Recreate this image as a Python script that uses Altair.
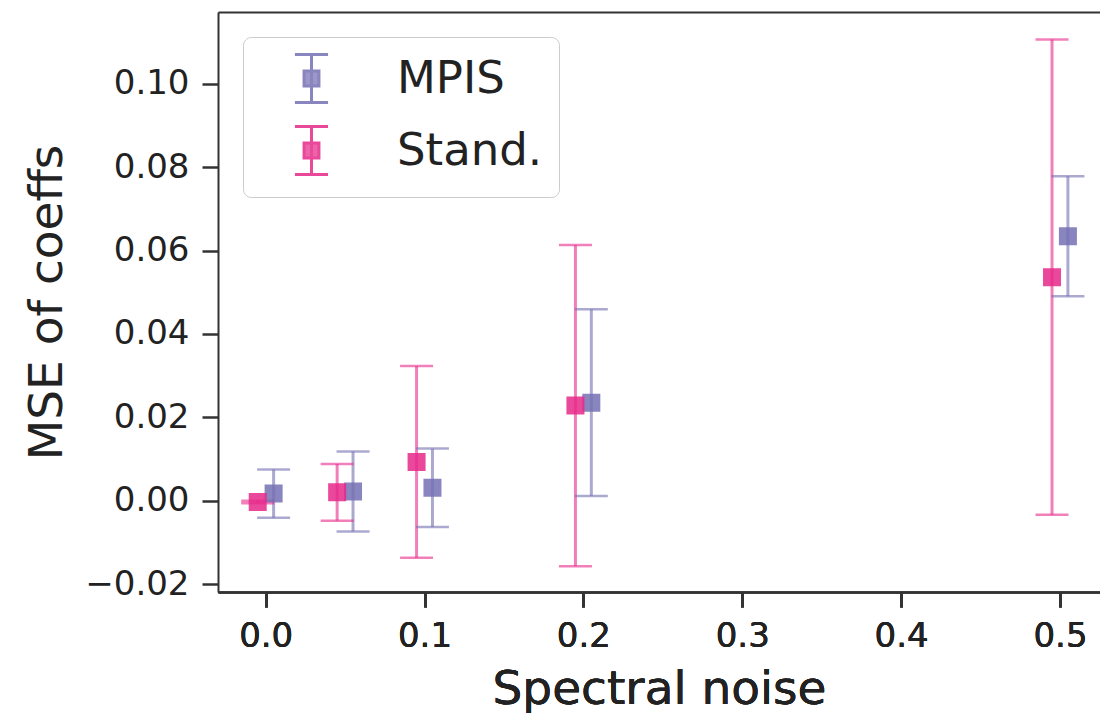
import altair as alt
import pandas as pd

# ---- data ----
noise = [0.0, 0.05, 0.1, 0.2, 0.5]
series = ["MPIS", "Stand."]
mpis_mean = [0.0017, 0.0022, 0.0031, 0.0235, 0.0634]
mpis_err = [0.0058, 0.0096, 0.0094, 0.0224, 0.0144]
stand_mean = [-0.0003, 0.0020, 0.0093, 0.0228, 0.0536]
stand_err = [0.0003, 0.0068, 0.0230, 0.0385, 0.0570]
colors = ["#7570b3", "#e7298a"]
dodge = 0.005  # horizontal dodge between the two series

x_ticks = [0.0, 0.1, 0.2, 0.3, 0.4, 0.5]
y_ticks = [-0.02, 0.0, 0.02, 0.04, 0.06, 0.08, 0.10]

rows = []
for name, shift, means, errs in [
    ("MPIS", dodge, mpis_mean, mpis_err),
    ("Stand.", -dodge, stand_mean, stand_err),
]:
    for n, m, e in zip(noise, means, errs):
        rows.append({"series": name, "noise": n + shift, "mean": m,
                     "lo": m - e, "hi": m + e})
df = pd.DataFrame(rows)

FONT = "DejaVu Sans"
TXT = "#222222"

xscale = alt.Scale(domain=[-0.030, 0.5252], nice=False, zero=False)
yscale = alt.Scale(domain=[-0.0219, 0.1172], nice=False, zero=False)

xaxis = alt.Axis(orient="bottom", values=x_ticks, format=".1f", title="Spectral noise",
                 titleBaseline="alphabetic", titleY=111, labelPadding=12, tickSize=15)
yaxis = alt.Axis(orient="left", values=y_ticks, format=".2f", title="MSE of coeffs",
                 titleBaseline="alphabetic", titleX=-157, titleAngle=270,
                 labelPadding=13, tickSize=16)

color_scale = alt.Scale(domain=series, range=colors)
sym_path = ("M-0.69,-1L0.69,-1M0,-1L0,1M-0.69,1L0.69,1"
            "M-0.31,-0.31L0.31,-0.31L0.31,0.31L-0.31,0.31Z")
legend = alt.Legend(title=None, orient="none", legendX=25, legendY=25,
                    symbolType=sym_path, symbolSize=2304, symbolStrokeWidth=3,
                    labelFont=FONT, labelFontSize=45, labelColor=TXT,
                    labelOffset=60, symbolOffset=27, padding=16, rowPadding=11,
                    strokeColor="#cccccc", fillColor="white", cornerRadius=8)

base = alt.Chart(df)
X = alt.X("noise:Q", scale=xscale, axis=xaxis)
FILL = alt.Fill("series:N", scale=color_scale, legend=legend)
STROKE = alt.Stroke("series:N", scale=color_scale, legend=legend)

bars = base.mark_rule(strokeWidth=3, strokeOpacity=0.6).encode(
    x=X,
    y=alt.Y("lo:Q", scale=yscale, axis=yaxis),
    y2="hi:Q",
    stroke=STROKE,
)
cap_lo = base.mark_tick(orient="horizontal", size=33, thickness=2.5, fillOpacity=0.6).encode(
    x=X,
    y=alt.Y("lo:Q", scale=yscale, axis=yaxis),
    fill=FILL,
)
cap_hi = base.mark_tick(orient="horizontal", size=33, thickness=2.5, fillOpacity=0.6).encode(
    x=X,
    y=alt.Y("hi:Q", scale=yscale, axis=yaxis),
    fill=FILL,
)
squares = base.mark_square(size=225, filled=True, strokeWidth=3, opacity=0.85).encode(
    x=X,
    y=alt.Y("mean:Q", scale=yscale, axis=yaxis),
    fill=FILL,
    stroke=STROKE,
)
top_border = base.mark_point(opacity=0).encode(
    x=alt.X("noise:Q", scale=xscale,
            axis=alt.Axis(orient="top", labels=False, ticks=False, title=None)),
    y=alt.Y("mean:Q", scale=yscale, axis=yaxis),
)

chart = (
    alt.layer(bars, cap_lo, cap_hi, squares, top_border)
    .properties(width=882, height=580, autosize="none",
                padding={"left": 218, "top": 12, "right": 0, "bottom": 121})
    .configure_view(stroke=None)
    .configure_axis(domainColor="#333333", domainWidth=2, tickColor="#333333",
                    tickWidth=2.5, grid=False, labelFont=FONT, labelFontSize=34,
                    labelColor=TXT, titleFont=FONT, titleFontSize=47,
                    titleFontWeight="normal", titleColor=TXT)
)

chart.save("out.html", embed_options={"renderer": "svg", "actions": False})
